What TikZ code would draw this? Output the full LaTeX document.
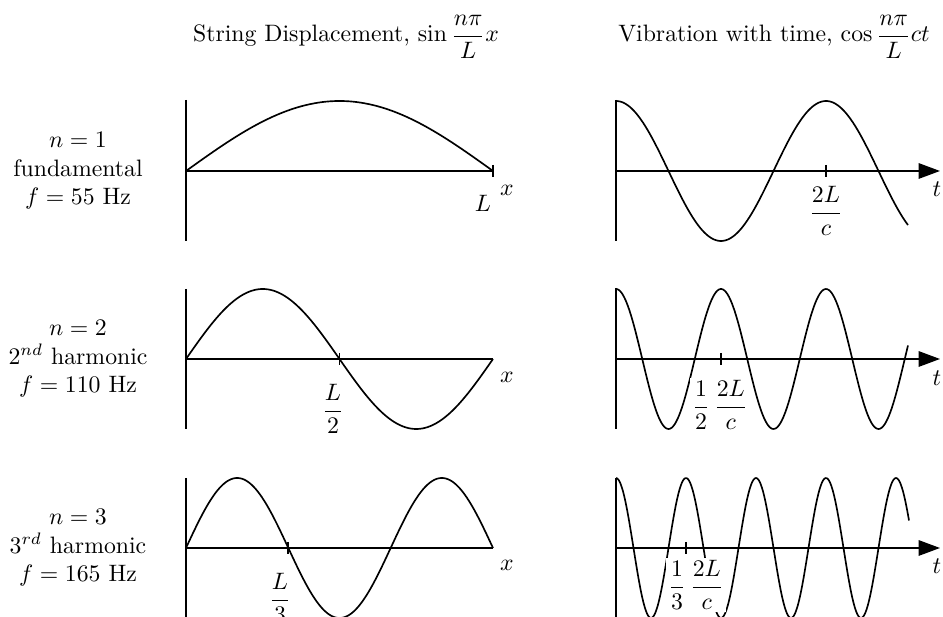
\documentclass[tikz,border=0pt]{standalone}
\usepackage{amsmath}
\usepackage{tikz}
\usetikzlibrary{arrows.meta}

\begin{document}
\begin{tikzpicture}[x=0.0148cm, y=-0.0148cm, line width=0.7pt,
        lbl/.style={fill=white, inner sep=1pt},
        tip/.style={-{Triangle[length=9pt,width=6.5pt]}}]
        \clip (0,0) rectangle (943,617);
        % column titles
        \node (tleft) at (346,37) {String Displacement, $\sin\dfrac{n\pi}{L}x$};
        \node (tright) at (774,37) {Vibration with time, $\cos\dfrac{n\pi}{L}ct$};
        % n = 1
        \node[align=center] (row1) at (78,171) {$n=1$\\fundamental\\$f=55$ Hz};
        \draw (186,100) -- (186,241);
        \draw (186,171) -- (493,171);
        \draw (493,165) -- (493,177);
        \draw[domain=0:307, samples=100, smooth] plot ({186+\x},{171-70*sin(180*(\x/307))});
        \node[lbl] (s1) at (483,203) {$L$};
        \node (x1) at (507,190) {$x$};
        \draw[tip] (616,171) -- (940,171);
        \draw (616,100) -- (616,241);
        \draw[domain=0:292, samples=150, smooth] plot ({616+\x},{171-70*cos(360*(\x/210))});
        \draw (826,165) -- (826,177);
        \node[lbl] (c1) at (826,211) {$\dfrac{2L}{c}$};
        \node (tt1) at (937,189) {$t$};
        % n = 2
        \node[align=center] (row2) at (78,359) {$n=2$\\$2^{nd}$ harmonic\\$f=110$ Hz};
        \draw (186,289) -- (186,429);
        \draw (186,359) -- (493,359);
        \draw (339.5,353) -- (339.5,365);
        \draw[domain=0:307, samples=150, smooth] plot ({186+\x},{359-70*sin(360*(\x/307))});
        \node[lbl] (s2) at (333,409) {$\dfrac{L}{2}$};
        \node (x2) at (507,377) {$x$};
        \draw[tip] (616,359) -- (940,359);
        \draw (616,288) -- (616,429);
        \draw[domain=0:292, samples=200, smooth] plot ({616+\x},{359-70*cos(720*(\x/210))});
        \draw (721,353) -- (721,365);
        \node[lbl] (c2) at (720,405) {$\dfrac{1}{2}\,\dfrac{2L}{c}$};
        \node (tt2) at (937,378) {$t$};
        % n = 3
        \node[align=center] (row3) at (78,548) {$n=3$\\$3^{rd}$ harmonic\\$f=165$ Hz};
        \draw (186,478) -- (186,620);
        \draw (186,548) -- (493,548);
        \draw (288,542) -- (288,554);
        \draw[domain=0:307, samples=200, smooth] plot ({186+\x},{548-70*sin(540*(\x/307))});
        \node[lbl] (s3) at (280,598) {$\dfrac{L}{3}$};
        \node (x3) at (507,565) {$x$};
        \draw[tip] (616,548) -- (940,548);
        \draw (616,478) -- (616,620);
        \draw[domain=0:293, samples=250, smooth] plot ({616+\x},{548-70*cos(1080*(\x/210))});
        \draw (686,542) -- (686,554);
        \node[lbl] (c3) at (696,585) {$\dfrac{1}{3}\,\dfrac{2L}{c}$};
        \node (tt3) at (937,566) {$t$};
\end{tikzpicture}
\end{document}
